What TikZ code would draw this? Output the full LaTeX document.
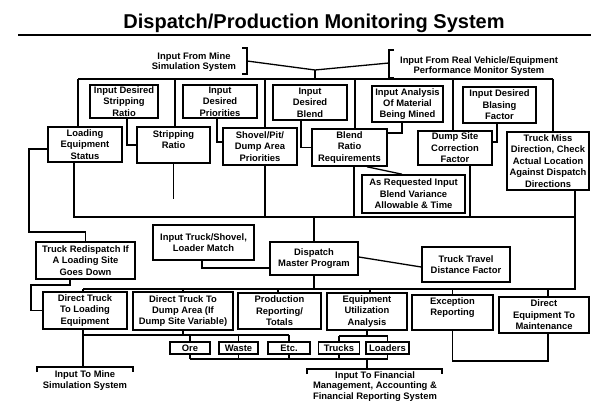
\documentclass[tikz,border=0pt]{standalone}
\usepackage{fontspec}
\setmainfont{Liberation Sans}
\usetikzlibrary{calc}

\begin{document}
\begin{tikzpicture}[x=1pt, y=-1pt,
    box/.style={draw, line width=1.6pt, align=center, inner sep=0.6pt,
      font=\bfseries\fontsize{9.4}{11.4}\selectfont},
    tag/.style={align=center, inner sep=0pt, font=\bfseries\fontsize{9.4}{10.4}\selectfont},
    wire/.style={line width=1.3pt}]
  \useasboundingbox (0,0) rectangle (591,403);

  % title
  \node[anchor=base, font=\bfseries\fontsize{20}{24}\selectfont] (title) at (314,28.5)
    {Dispatch/Production Monitoring System};
  \draw[line width=2.6pt] (18,35) -- (591,35);

  % outside inputs
  \node[tag] (minein) at (194,62) {Input From Mine\\Simulation System};
  \node[tag] (realin) at (479,66) {Input From Real Vehicle/Equipment\\Performance Monitor System};

  % entered values
  \node[box, minimum width=68, minimum height=33] (desstrip) at (124,101.5) {Input Desired\\Stripping\\Ratio};
  \node[box, minimum width=74, minimum height=33] (despri) at (220,101.5) {Input\\Desired\\Priorities};
  \node[box, minimum width=74, minimum height=35] (desblend) at (310,102.5) {Input\\Desired\\Blend};
  \node[box, minimum width=71, minimum height=36] (analysis) at (407.5,104) {Input Analysis\\Of Material\\Being Mined};
  \node[box, minimum width=73, minimum height=36] (blasting) at (499.5,105) {Input Desired\\Blasing\\Factor};

  % derived values
  \node[box, minimum width=74, minimum height=35] (loading) at (85,144.5) {Loading\\Equipment\\Status};
  \node[box, minimum width=73, minimum height=36] (stripratio) at (173.5,145) {Stripping\\Ratio\\~};
  \node[box, minimum width=74, minimum height=37] (shovel) at (260,146.5) {Shovel/Pit/\\Dump Area\\Priorities};
  \node[box, minimum width=75, minimum height=37] (blendratio) at (349.5,147.5) {Blend\\Ratio\\Requirements};
  \node[box, minimum width=74, minimum height=34] (dumpsite) at (455,148) {Dump Site\\Correction\\Factor};
  \node[box, minimum width=82, minimum height=58] (missdir) at (548,161)
    {Truck Miss\\Direction, Check\\Actual Location\\Against Dispatch\\Directions};
  \node[box, minimum width=103, minimum height=38] (variance) at (413.5,194)
    {As Requested Input\\Blend Variance\\Allowable \& Time};

  % dispatch program
  \node[box, minimum width=99, minimum height=37] (redispatch) at (85.5,260.5) {Truck Redispatch If\\A Loading Site\\Goes Down};
  \node[box, minimum width=101, minimum height=35] (loadermatch) at (203.5,242.5) {Input Truck/Shovel,\\Loader Match};
  \node[box, minimum width=88, minimum height=33] (master) at (314,258.5) {Dispatch\\Master Program};
  \node[box, minimum width=88, minimum height=35] (travel) at (466,264.5) {Truck Travel\\Distance Factor};

  % outputs
  \node[box, minimum width=84, minimum height=37] (dirload) at (85,310.5) {Direct Truck\\To Loading\\Equipment};
  \node[box, minimum width=100, minimum height=38] (dirdump) at (183,311) {Direct Truck To\\Dump Area (If\\Dump Site Variable)};
  \node[box, minimum width=83, minimum height=36] (production) at (279.5,311) {Production\\Reporting/\\Totals};
  \node[box, minimum width=80, minimum height=37] (utilization) at (367,311.5) {Equipment\\Utilization\\Analysis};
  \node[box, minimum width=81, minimum height=35] (exception) at (452.5,312.5) {Exception\\Reporting\\~};
  \node[box, minimum width=90, minimum height=36] (maintenance) at (544,315) {Direct\\Equipment To\\Maintenance};

  \node[box, minimum width=40, minimum height=12] (ore) at (190,348) {Ore};
  \node[box, minimum width=39, minimum height=12] (waste) at (238.5,348) {Waste};
  \node[box, minimum width=42, minimum height=12] (etc) at (289,348) {Etc.};
  \node[box, minimum width=41, minimum height=12] (trucks) at (339,348) {Trucks};
  \node[box, minimum width=43, minimum height=12] (loaders) at (387.5,348) {Loaders};

  \node[tag] (mineout) at (85,380.5) {Input To Mine\\Simulation System};
  \node[tag] (finout) at (375,386.5) {Input To Financial\\Management, Accounting \&\\Financial Reporting System};

  % brackets and feed into the top bus
  \draw[wire] (242,48) -- (247,48) -- (247,74) -- (242,74);
  \draw[wire] (394,50) -- (389,50) -- (389,78) -- (394,78);
  \coordinate (mb) at (247,61);
  \coordinate (rb) at (389,63);
  \coordinate (join) at (315,70);
  \coordinate (busL) at (78,79);
  \coordinate (busR) at (553,79);
  \draw[wire] (mb) -- (join) -- (rb);
  \draw[wire] (join) -- (join |- busL);
  \draw[wire] (busL) -- (busR);
  \foreach \x/\n in {78/loading, 175/stripratio, 265/shovel, 355/blendratio, 453/dumpsite, 553/missdir} {
    \coordinate (tap) at (\x,79);
    \draw[wire] (tap) -- (tap |- \n.north);
  }

  % entered values into derived values
  \draw[wire] ([xshift=3pt]desstrip.south) |- (stripratio.west);
  \draw[wire] ([xshift=-3pt]despri.south) |- ([yshift=4.5pt]shovel.west);
  \draw[wire] ([xshift=-9pt]desblend.south) |- (blendratio.west);
  \draw[wire] ([xshift=-5.5pt]analysis.south) |- ([yshift=14.5pt]blendratio.east);
  \draw[wire] ([xshift=-2.5pt]blasting.south) |- ([yshift=6pt]dumpsite.east);
  \draw[wire] ([xshift=17.5pt]blendratio.south) -- ([xshift=-11.5pt]variance.north);

  % middle bus
  \coordinate (m1) at (74,217);
  \coordinate (m2) at (575,217);
  \coordinate (stub) at (175,199);
  \draw[wire] ([xshift=-11pt]loading.south) |- (m2);
  \draw[wire] (stripratio.south) -- (stripratio.south |- stub);
  \foreach \n/\dx in {shovel/5, blendratio/4.5, dumpsite/15} {
    \path ([xshift=\dx pt]\n.south) coordinate (up);
    \draw[wire] (up) -- (up |- m1);
  }
  \draw[wire] (master.north |- m1) -- (master.north);

  % redispatch loop
  \coordinate (c1) at (29,232);
  \coordinate (c2) at (31,285);
  \draw[wire] ([yshift=-4.5pt]loading.west) -| (c1) -| (redispatch.north);
  \draw[wire] ([xshift=-15.5pt]redispatch.south) |- (c2) |- (dirload.west);

  \draw[wire] ([xshift=-1.5pt]loadermatch.south) |- ([yshift=-9.5pt]master.west);
  \draw[wire] ([yshift=1.5pt]master.east) -- ([yshift=-2.5pt]travel.west);

  % lower bus
  \coordinate (n1) at (83,289);
  \draw[wire] ([xshift=27pt]missdir.south) |- (n1);
  \draw[wire] (master.south) -- (master.south |- n1);
  \foreach \n/\dx in {dirload/-2, dirdump/0, production/-1.5, utilization/3, exception/0, maintenance/4} {
    \path ([xshift=\dx pt]\n.north) coordinate (dn);
    \draw[wire] (dn |- n1) -- (dn);
  }

  % to mine simulation
  \coordinate (kb) at (83,367);
  \draw[wire] (37,372) -- (37,367) -- (133,367) -- (133,372);
  \draw[wire] (kb |- dirload.south) -- (kb);

  % material groups
  \coordinate (og) at (83,335);
  \draw[wire] (og) -- (og -| etc.north);
  \draw[wire] (dirdump.south) -- (dirdump.south |- og);
  \foreach \n in {ore, waste, etc}
    \draw[wire] (\n.north |- og) -- (\n.north);

  \coordinate (tg) at (367,336);
  \draw[wire] (utilization.south) -- (utilization.south |- tg);
  \draw[wire] (trucks.north |- tg) -- (loaders.north |- tg);
  \foreach \n in {trucks, loaders}
    \draw[wire] (\n.north |- tg) -- (\n.north);

  % to financial reporting
  \coordinate (fg) at (367,359);
  \coordinate (fb) at (367,369);
  \draw[wire] (ore.south |- fg) -- (loaders.south |- fg);
  \foreach \n in {ore, waste, etc, trucks, loaders}
    \draw[wire] (\n.south) -- (\n.south |- fg);
  \draw[wire] (fg) -- (fb);
  \draw[wire] (307,374) -- (307,369) -- (442,369) -- (442,374);

  \coordinate (eg) at (548,361);
  \draw[wire] (exception.south) |- (eg) -- ([xshift=4pt]maintenance.south);

\end{tikzpicture}
\end{document}
